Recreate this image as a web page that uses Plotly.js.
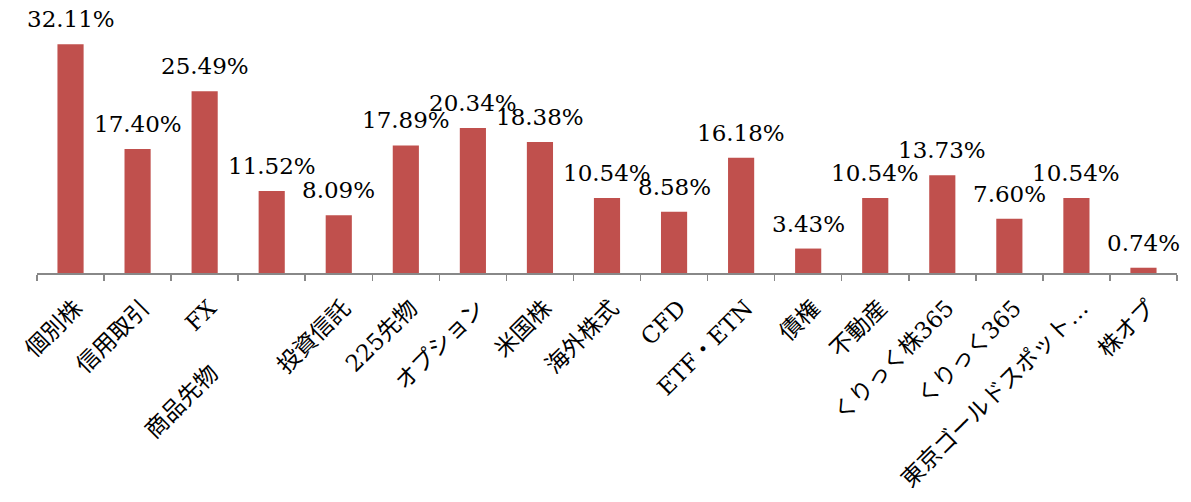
<!DOCTYPE html>
<html>
<head>
<meta charset="utf-8">
<script src="https://cdn.plot.ly/plotly-3.0.1.min.js"></script>
<style>html,body{margin:0;padding:0;background:#fff;}#chart{width:1191px;height:502px;}</style>
</head>
<body>
<div id="chart"></div>
<script>
var categories = ["個別株","信用取引","FX","商品先物","投資信託","225先物","オプション","米国株","海外株式","CFD","ETF・ETN","債権","不動産","くりっく株365","くりっく365","東京ゴールドスポット…","株オプ"];
var tickLabels = ["個別株","信用取引","FX","商品先物\u3000\u3000\u3000\u3000","投資信託","225先物","オプション","米国株","海外株式","CFD","ETF・ETN","債権","不動産","くりっく株365","くりっく365","東京ゴールドスポット…","株オプ"];
var values = [32.11,17.40,25.49,11.52,8.09,17.89,20.34,18.38,10.54,8.58,16.18,3.43,10.54,13.73,7.60,10.54,0.74];

var FONT = "'DejaVu Serif', 'Noto Sans CJK JP', serif";

var annotations = categories.map(function(c, i){
  return {x: c, y: values[i], xref: 'x', yref: 'y', text: values[i].toFixed(2) + '%',
    showarrow: false, yanchor: 'bottom', xanchor: 'center', yshift: 10,
    font: {family: FONT, size: 23, color: '#000'}};
});

var trace = {type: 'bar', x: categories, y: values, marker: {color: '#C0504D'}, hoverinfo: 'none'};

var layout = {
  width: 1191, height: 502,
  margin: {l: 37, r: 14, t: 10, b: 229, autoexpand: false},
  paper_bgcolor: '#fff', plot_bgcolor: '#fff',
  showlegend: false,
  bargap: 0.61,
  xaxis: {type: 'category', tickmode: 'array', tickvals: categories, ticktext: tickLabels,
    range: [-0.5, 16.5], automargin: false,
    tickangle: -45, tickson: 'boundaries', ticks: 'outside', ticklen: 6, tickcolor: '#888', tickwidth: 1.5,
    showline: true, linecolor: '#888', linewidth: 1.5, showgrid: false, zeroline: false,
    ticklabelshift: 5, ticklabelstandoff: 11,
    tickfont: {family: FONT, size: 23, color: '#000'}},
  yaxis: {range: [0, 36.9], visible: false, automargin: false, showgrid: false, zeroline: false},
  annotations: annotations
};

Plotly.newPlot('chart', [trace], layout, {displayModeBar: false, staticPlot: true});
</script>
</body>
</html>
